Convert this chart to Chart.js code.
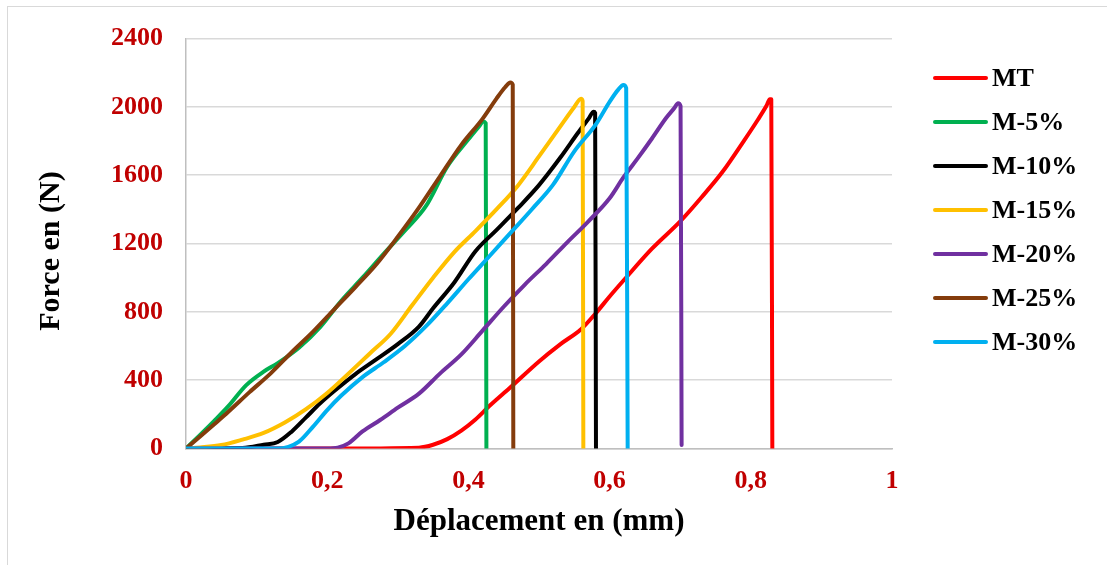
<!DOCTYPE html>
<html>
<head>
<meta charset="utf-8">
<script src="https://cdn.jsdelivr.net/npm/chart.js@4.4.0/dist/chart.umd.min.js"></script>
<style>
  html, body { margin: 0; padding: 0; background: #fff; }
  #wrap { position: relative; width: 1107px; height: 565px; overflow: hidden; }
  #frame { position: absolute; left: 7px; top: 6px; width: 1200px; height: 700px;
           border-left: 1.5px solid #d9d9d9; border-top: 1.5px solid #d9d9d9; }
  canvas { position: absolute; left: 0; top: 0; }
</style>
</head>
<body>
<div id="wrap">
  <div id="frame"></div>
  <canvas id="chart" width="1107" height="565"></canvas>
</div>
<script>
// Series names and colours (legend order)
const labels = ['MT', 'M-5%', 'M-10%', 'M-15%', 'M-20%', 'M-25%', 'M-30%'];
const colors = ['#FF0000', '#00B050', '#000000', '#FFC000', '#7030A0', '#843C0C', '#00B0F0'];

// Displacement (mm) / force (N)
const mtX = [0, 0.2, 0.33, 0.35, 0.37, 0.39, 0.41, 0.43, 0.46, 0.5, 0.53, 0.56, 0.58, 0.6, 0.62, 0.66, 0.7, 0.73, 0.76, 0.79, 0.81, 0.822, 0.827, 0.829, 0.8305];
const mtY = [0, 0, 5, 22, 55, 105, 170, 250, 360, 510, 610, 700, 790, 890, 985, 1170, 1330, 1470, 1620, 1800, 1925, 2005, 2045, 2045, 0];

const m5X = [0, 0.02, 0.04, 0.06, 0.085, 0.11, 0.13, 0.16, 0.19, 0.22, 0.25, 0.28, 0.31, 0.34, 0.37, 0.4, 0.415, 0.421, 0.4245, 0.4255];
const m5Y = [0, 80, 162, 248, 370, 450, 500, 590, 710, 865, 1000, 1140, 1275, 1420, 1650, 1810, 1885, 1915, 1905, 0];

const m10X = [0, 0.08, 0.11, 0.13, 0.15, 0.17, 0.19, 0.21, 0.24, 0.27, 0.3, 0.33, 0.35, 0.38, 0.41, 0.44, 0.47, 0.5, 0.53, 0.555, 0.57, 0.5775, 0.5795, 0.5807];
const m10Y = [0, 3, 22, 38, 100, 182, 265, 337, 436, 523, 611, 714, 821, 972, 1155, 1280, 1407, 1542, 1702, 1847, 1930, 1972, 1965, 0];

const m15X = [0, 0.02, 0.05, 0.08, 0.11, 0.14, 0.17, 0.2, 0.23, 0.26, 0.29, 0.32, 0.35, 0.38, 0.41, 0.44, 0.47, 0.5, 0.53, 0.55, 0.5595, 0.5618, 0.5628];
const m15Y = [0, 6, 20, 52, 91, 152, 230, 325, 438, 555, 672, 837, 1000, 1150, 1273, 1401, 1539, 1710, 1885, 2000, 2048, 2035, 0];

const m20X = [0, 0.2, 0.215, 0.23, 0.25, 0.275, 0.3, 0.33, 0.36, 0.39, 0.42, 0.45, 0.48, 0.51, 0.54, 0.57, 0.6, 0.62, 0.64, 0.66, 0.68, 0.692, 0.697, 0.7005, 0.702];
const m20Y = [0, 0, 5, 30, 100, 167, 239, 321, 440, 551, 690, 830, 960, 1080, 1207, 1330, 1465, 1590, 1700, 1815, 1935, 1995, 2022, 2005, 20];

const m25X = [0, 0.02, 0.04, 0.06, 0.09, 0.12, 0.15, 0.18, 0.21, 0.24, 0.27, 0.3, 0.33, 0.36, 0.39, 0.42, 0.44, 0.452, 0.4595, 0.4628, 0.4636];
const m25Y = [0, 70, 142, 215, 330, 440, 565, 684, 815, 945, 1080, 1240, 1410, 1595, 1778, 1930, 2050, 2115, 2143, 2130, 0];

const m30X = [0, 0.13, 0.145, 0.16, 0.18, 0.2, 0.22, 0.25, 0.28, 0.31, 0.34, 0.37, 0.4, 0.43, 0.46, 0.49, 0.52, 0.55, 0.58, 0.6, 0.612, 0.6195, 0.6235, 0.6256];
const m30Y = [0, 0, 10, 40, 128, 225, 310, 418, 505, 600, 716, 850, 991, 1127, 1264, 1401, 1545, 1740, 1895, 2030, 2100, 2128, 2110, 0];

const xTicks = [0, 0.2, 0.4, 0.6, 0.8, 1];
const yTicks = [0, 400, 800, 1200, 1600, 2000, 2400];

const seriesX = [mtX, m5X, m10X, m15X, m20X, m25X, m30X];
const seriesY = [mtY, m5Y, m10Y, m15Y, m20Y, m25Y, m30Y];

function points(xs, ys) {
    return xs.map((x, i) => ({ x: x, y: ys[i] }));
}

const serif = '"Liberation Serif", "Times New Roman", serif';
const tickRed = '#C00000';

// later series sit on top, like in the spreadsheet
const datasets = labels.map((name, i) => ({
    label: name,
    data: points(seriesX[i], seriesY[i]),
    borderColor: colors[i],
    backgroundColor: colors[i],
    borderWidth: 4,
    pointRadius: 0,
    cubicInterpolationMode: 'monotone',
    borderJoinStyle: 'round',
    borderCapStyle: 'round',
    order: labels.length - i
}));

// legend drawn on the right, line sample + bold label
const sideLegend = {
    id: 'sideLegend',
    afterDraw(chart) {
        const ctx = chart.ctx;
        ctx.save();
        ctx.font = 'bold 26px ' + serif;
        ctx.textBaseline = 'middle';
        ctx.lineCap = 'round';
        chart.data.datasets.forEach((ds, i) => {
            const y = 78 + i * 44;
            ctx.strokeStyle = ds.borderColor;
            ctx.lineWidth = 4;
            ctx.beginPath();
            ctx.moveTo(935, y);
            ctx.lineTo(986, y);
            ctx.stroke();
            ctx.fillStyle = '#000';
            ctx.fillText(ds.label, 992, y + 1);
        });
        ctx.restore();
    }
};

new Chart(document.getElementById('chart'), {
    type: 'line',
    data: { datasets: datasets },
    plugins: [sideLegend],
    options: {
        responsive: false,
        animation: false,
        devicePixelRatio: 1,
        layout: { padding: { left: 10, right: 215, top: 38.5, bottom: 0 } },
        plugins: {
            legend: { display: false },
            tooltip: { enabled: false }
        },
        scales: {
            x: {
                type: 'linear',
                min: 0,
                max: 1,
                afterFit: (scale) => { scale.height = 116.5; },
                afterBuildTicks: (scale) => { scale.ticks = xTicks.map(v => ({ value: v })); },
                grid: { display: false, drawTicks: false },
                border: { display: true, color: '#bfbfbf', width: 1.5 },
                ticks: {
                    padding: 17,
                    maxRotation: 0,
                    color: tickRed,
                    font: { family: serif, size: 26, weight: 'bold' },
                    callback: (v) => String(Math.round(v * 10) / 10).replace('.', ',')
                },
                title: {
                    display: true,
                    text: 'Déplacement en (mm)',
                    color: '#000',
                    font: { family: serif, size: 31, weight: 'bold' },
                    padding: { top: 0, bottom: 24 }
                }
            },
            y: {
                min: 0,
                max: 2400,
                afterFit: (scale) => { scale.width = 176; },
                afterBuildTicks: (scale) => { scale.ticks = yTicks.map(v => ({ value: v })); },
                grid: { color: '#d9d9d9', lineWidth: 1.5, drawTicks: false },
                border: { display: true, color: '#bfbfbf', width: 1.5 },
                ticks: {
                    padding: 23,
                    color: tickRed,
                    font: { family: serif, size: 26, weight: 'bold' },
                    callback: (v) => String(v)
                },
                title: {
                    display: true,
                    // en space at the end pushes the visible text a bit lower, as in the source
                    text: 'Force en (N)\u2002',
                    color: '#000',
                    font: { family: serif, size: 30, weight: 'bold' },
                    padding: { top: 23, bottom: 0 }
                }
            }
        }
    }
});
</script>
</body>
</html>
